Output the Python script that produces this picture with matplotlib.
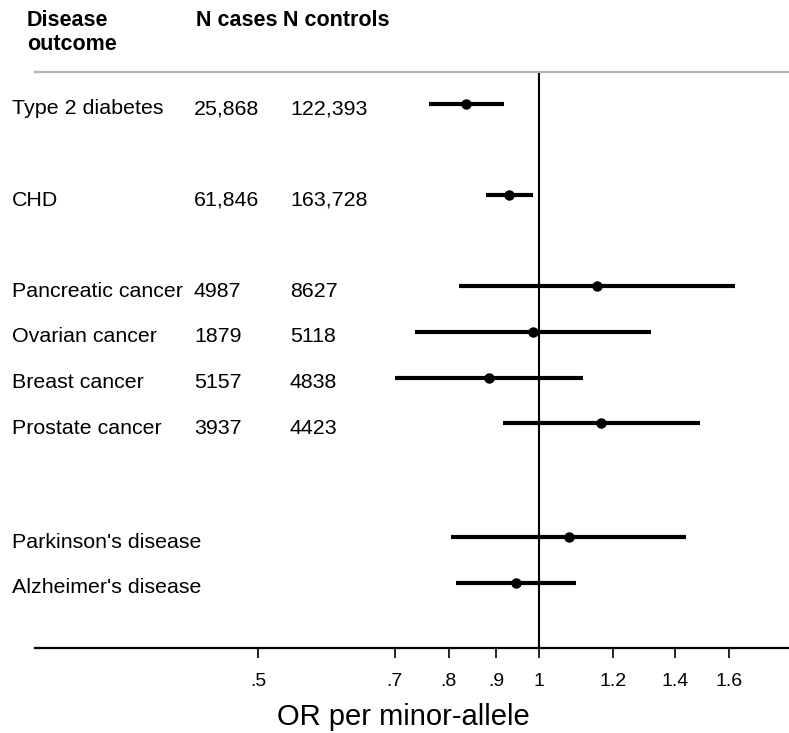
import matplotlib
matplotlib.use("Agg")
import matplotlib.pyplot as plt
import matplotlib.transforms as mtransforms
import numpy as np

outcomes = ["Type 2 diabetes", "CHD", "Pancreatic cancer", "Ovarian cancer",
            "Breast cancer", "Prostate cancer", "Parkinson's disease", "Alzheimer's disease"]
n_cases = ["25,868", "61,846", "4987", "1879", "5157", "3937", "", ""]
n_controls = ["122,393", "163,728", "8627", "5118", "4838", "4423", "", ""]
or_est = [0.835, 0.929, 1.153, 0.985, 0.883, 1.166, 1.077, 0.944]
ci_low = [0.762, 0.877, 0.821, 0.737, 0.701, 0.915, 0.805, 0.815]
ci_high = [0.917, 0.985, 1.621, 1.320, 1.115, 1.489, 1.437, 1.096]
rows = [0, 2, 4, 5, 6, 7, 9.5, 10.5]

tick_vals = [0.5, 0.7, 0.8, 0.9, 1, 1.2, 1.4, 1.6]
tick_labels = [".5", ".7", ".8", ".9", "1", "1.2", "1.4", "1.6"]

plt.rcParams['font.family'] = ['Liberation Sans', 'DejaVu Sans']

W, H = 789, 733
fig = plt.figure(figsize=(W / 100, H / 100), dpi=100)
ax = fig.add_axes([35 / W, (H - 648) / H, (W - 35) / W, (648 - 72) / H])

ax.set_xscale('log')
ax.set_xlim(np.exp((35 - 539) / 405), np.exp((789 - 539) / 405))
ax.set_ylim(11.93, -0.70)

for y, lo, hi, est in zip(rows, ci_low, ci_high, or_est):
    ax.plot([lo, hi], [y, y], color='black', lw=3, solid_capstyle='butt', zorder=3)
    ax.plot(est, y, marker='o', color='black', markersize=6.5, zorder=4)

ax.axvline(1, color='black', lw=1.5, zorder=2)

for s in ['left', 'right']:
    ax.spines[s].set_visible(False)
ax.spines['top'].set_color('#b4b4b4')
ax.spines['top'].set_linewidth(1.6)
ax.spines['bottom'].set_linewidth(1.6)

ax.set_yticks([])
ax.set_xticks(tick_vals)
ax.set_xticklabels(tick_labels)
ax.xaxis.set_minor_locator(matplotlib.ticker.NullLocator())
ax.tick_params(axis='x', length=7, width=1.2, pad=11, labelsize=14)

trans = mtransforms.blended_transform_factory(fig.transFigure, ax.transData)
for y, name, nc, nn in zip(rows, outcomes, n_cases, n_controls):
    ax.text(12 / W, y + 0.11, name, transform=trans, fontsize=15.4, va='center', ha='left', clip_on=False)
    ax.text(194 / W, y + 0.11, nc, transform=trans, fontsize=15.4, va='center', ha='left', clip_on=False)
    ax.text(290 / W, y + 0.11, nn, transform=trans, fontsize=15.4, va='center', ha='left', clip_on=False)

fig.text(27 / W, 1 - 20 / H, "Disease", fontsize=15.5, fontweight='bold', va='center', ha='left')
fig.text(27 / W, 1 - 44 / H, "outcome", fontsize=15.5, fontweight='bold', va='center', ha='left')
fig.text(196 / W, 1 - 20 / H, "N cases", fontsize=15.5, fontweight='bold', va='center', ha='left')
fig.text(283 / W, 1 - 20 / H, "N controls", fontsize=15.5, fontweight='bold', va='center', ha='left')

fig.text(403 / W, 1 - 717 / H, "OR per minor-allele", fontsize=21, va='center', ha='center')

fig.savefig("out.png", dpi=100)
